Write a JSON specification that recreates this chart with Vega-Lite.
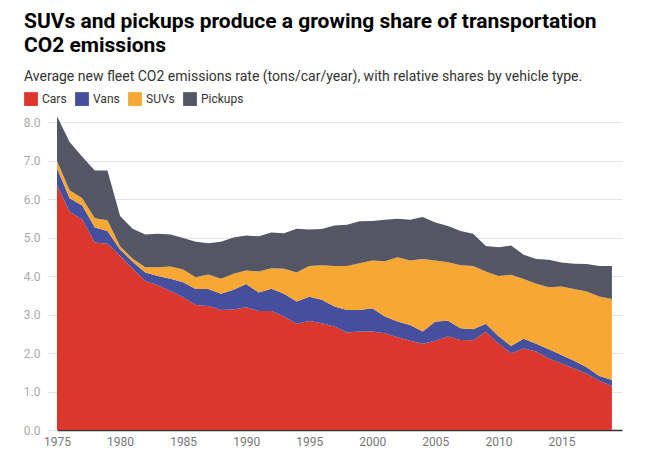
{
  "$schema": "https://vega.github.io/schema/vega-lite/v6.json",
  "width": 565,
  "height": 308,
  "autosize": {"type": "none"},
  "padding": {"left": 57, "top": 122, "right": 26, "bottom": 28},
  "title": {
    "text": ["SUVs and pickups produce a growing share of transportation", "CO2 emissions"],
    "subtitle": "Average new fleet CO2 emissions rate (tons/car/year), with relative shares by vehicle type.",
    "anchor": "start",
    "frame": "group",
    "dx": -33,
    "offset": 8
  },
  "data": {
    "values": [
      {"year": 1975, "Cars": 6.37, "Vans": 0.43, "SUVs": 0.19, "Pickups": 1.16},
      {"year": 1976, "Cars": 5.67, "Vans": 0.35, "SUVs": 0.21, "Pickups": 1.25},
      {"year": 1977, "Cars": 5.47, "Vans": 0.36, "SUVs": 0.19, "Pickups": 1.08},
      {"year": 1978, "Cars": 4.87, "Vans": 0.39, "SUVs": 0.24, "Pickups": 1.24},
      {"year": 1979, "Cars": 4.84, "Vans": 0.33, "SUVs": 0.28, "Pickups": 1.29},
      {"year": 1980, "Cars": 4.52, "Vans": 0.17, "SUVs": 0.08, "Pickups": 0.79},
      {"year": 1981, "Cars": 4.19, "Vans": 0.18, "SUVs": 0.08, "Pickups": 0.78},
      {"year": 1982, "Cars": 3.87, "Vans": 0.22, "SUVs": 0.14, "Pickups": 0.85},
      {"year": 1983, "Cars": 3.76, "Vans": 0.24, "SUVs": 0.23, "Pickups": 0.87},
      {"year": 1984, "Cars": 3.61, "Vans": 0.32, "SUVs": 0.32, "Pickups": 0.83},
      {"year": 1985, "Cars": 3.45, "Vans": 0.39, "SUVs": 0.33, "Pickups": 0.82},
      {"year": 1986, "Cars": 3.25, "Vans": 0.41, "SUVs": 0.31, "Pickups": 0.92},
      {"year": 1987, "Cars": 3.22, "Vans": 0.44, "SUVs": 0.38, "Pickups": 0.81},
      {"year": 1988, "Cars": 3.12, "Vans": 0.42, "SUVs": 0.39, "Pickups": 0.96},
      {"year": 1989, "Cars": 3.13, "Vans": 0.51, "SUVs": 0.42, "Pickups": 0.94},
      {"year": 1990, "Cars": 3.19, "Vans": 0.6, "SUVs": 0.35, "Pickups": 0.91},
      {"year": 1991, "Cars": 3.09, "Vans": 0.48, "SUVs": 0.55, "Pickups": 0.91},
      {"year": 1992, "Cars": 3.09, "Vans": 0.58, "SUVs": 0.53, "Pickups": 0.93},
      {"year": 1993, "Cars": 2.95, "Vans": 0.59, "SUVs": 0.65, "Pickups": 0.92},
      {"year": 1994, "Cars": 2.76, "Vans": 0.58, "SUVs": 0.75, "Pickups": 1.14},
      {"year": 1995, "Cars": 2.83, "Vans": 0.63, "SUVs": 0.8, "Pickups": 0.95},
      {"year": 1996, "Cars": 2.77, "Vans": 0.61, "SUVs": 0.9, "Pickups": 0.94},
      {"year": 1997, "Cars": 2.69, "Vans": 0.52, "SUVs": 1.05, "Pickups": 1.05},
      {"year": 1998, "Cars": 2.53, "Vans": 0.59, "SUVs": 1.14, "Pickups": 1.07},
      {"year": 1999, "Cars": 2.56, "Vans": 0.56, "SUVs": 1.21, "Pickups": 1.09},
      {"year": 2000, "Cars": 2.56, "Vans": 0.6, "SUVs": 1.24, "Pickups": 1.03},
      {"year": 2001, "Cars": 2.51, "Vans": 0.44, "SUVs": 1.43, "Pickups": 1.08},
      {"year": 2002, "Cars": 2.41, "Vans": 0.41, "SUVs": 1.67, "Pickups": 1.0},
      {"year": 2003, "Cars": 2.32, "Vans": 0.41, "SUVs": 1.67, "Pickups": 1.06},
      {"year": 2004, "Cars": 2.24, "Vans": 0.32, "SUVs": 1.88, "Pickups": 1.09},
      {"year": 2005, "Cars": 2.32, "Vans": 0.5, "SUVs": 1.58, "Pickups": 0.99},
      {"year": 2006, "Cars": 2.43, "Vans": 0.41, "SUVs": 1.52, "Pickups": 0.94},
      {"year": 2007, "Cars": 2.34, "Vans": 0.3, "SUVs": 1.64, "Pickups": 0.89},
      {"year": 2008, "Cars": 2.33, "Vans": 0.29, "SUVs": 1.64, "Pickups": 0.84},
      {"year": 2009, "Cars": 2.55, "Vans": 0.21, "SUVs": 1.36, "Pickups": 0.66},
      {"year": 2010, "Cars": 2.25, "Vans": 0.19, "SUVs": 1.56, "Pickups": 0.75},
      {"year": 2011, "Cars": 1.99, "Vans": 0.19, "SUVs": 1.85, "Pickups": 0.76},
      {"year": 2012, "Cars": 2.12, "Vans": 0.25, "SUVs": 1.55, "Pickups": 0.63},
      {"year": 2013, "Cars": 2.04, "Vans": 0.2, "SUVs": 1.56, "Pickups": 0.64},
      {"year": 2014, "Cars": 1.86, "Vans": 0.24, "SUVs": 1.61, "Pickups": 0.71},
      {"year": 2015, "Cars": 1.73, "Vans": 0.22, "SUVs": 1.78, "Pickups": 0.62},
      {"year": 2016, "Cars": 1.6, "Vans": 0.2, "SUVs": 1.86, "Pickups": 0.66},
      {"year": 2017, "Cars": 1.46, "Vans": 0.17, "SUVs": 1.97, "Pickups": 0.71},
      {"year": 2018, "Cars": 1.28, "Vans": 0.12, "SUVs": 2.07, "Pickups": 0.79},
      {"year": 2019, "Cars": 1.14, "Vans": 0.16, "SUVs": 2.1, "Pickups": 0.86}
    ]
  },
  "transform": [
    {"fold": ["Cars", "Vans", "SUVs", "Pickups"], "as": ["type", "rate"]},
    {"calculate": "indexof(['Cars', 'Vans', 'SUVs', 'Pickups'], datum.type)", "as": "stackOrder"}
  ],
  "mark": {"type": "area", "interpolate": "linear"},
  "encoding": {
    "x": {
      "field": "year",
      "type": "quantitative",
      "scale": {"domain": [1975, 2019.8], "nice": false, "zero": false},
      "axis": {
        "title": null,
        "values": [1975, 1980, 1985, 1990, 1995, 2000, 2005, 2010, 2015],
        "format": "d",
        "grid": false,
        "ticks": false,
        "labelFlush": false,
        "domainColor": "#333333",
        "domainWidth": 1.5,
        "labelPadding": 6,
        "labelColor": "#777777",
        "labelFontSize": 12
      }
    },
    "y": {
      "field": "rate",
      "type": "quantitative",
      "stack": "zero",
      "scale": {"domain": [0, 8], "nice": false},
      "axis": {
        "title": null,
        "values": [0, 1, 2, 3, 4, 5, 6, 7, 8],
        "format": ".1f",
        "domain": false,
        "tickColor": "#e4e4e4",
        "tickSize": 9,
        "gridColor": "#e4e4e4",
        "labelPadding": 8,
        "labelColor": "#aaaaaa",
        "labelFontSize": 12
      }
    },
    "color": {
      "field": "type",
      "type": "nominal",
      "scale": {
        "domain": ["Cars", "Vans", "SUVs", "Pickups"],
        "range": ["#dc372d", "#454f9d", "#f7a834", "#555665"]
      },
      "legend": {
        "title": null,
        "orient": "none",
        "direction": "horizontal",
        "legendX": -33,
        "legendY": -30,
        "symbolType": "square",
        "symbolSize": 190,
        "symbolStrokeWidth": 0,
        "labelOffset": 4,
        "columnPadding": 8,
        "labelFontSize": 12,
        "labelColor": "#333333"
      }
    },
    "order": {"field": "stackOrder", "type": "quantitative", "sort": "ascending"}
  },
  "config": {
    "font": "Roboto",
    "view": {"stroke": null},
    "title": {
      "fontSize": 21,
      "fontWeight": "bold",
      "color": "#000000",
      "lineHeight": 24,
      "subtitleFontSize": 14,
      "subtitleColor": "#333333",
      "subtitlePadding": 14
    }
  }
}
